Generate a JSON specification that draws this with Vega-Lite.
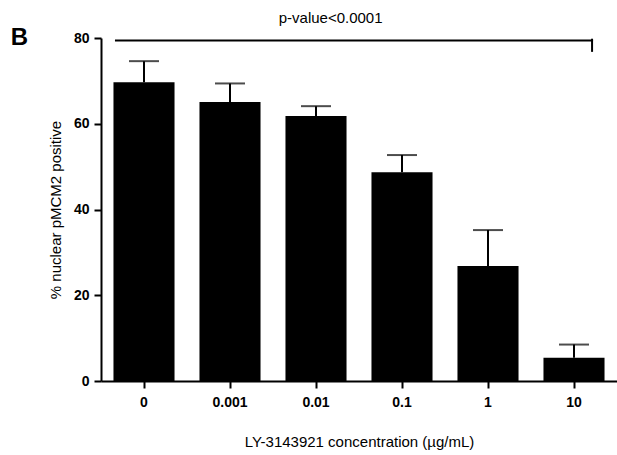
{
  "$schema": "https://vega.github.io/schema/vega-lite/v6.json",
  "autosize": "none",
  "padding": {"left": 101, "top": 38, "right": 0, "bottom": 74},
  "width": 516,
  "height": 343,
  "background": "white",
  "config": {
    "view": {"stroke": null},
    "axis": {"grid": false, "domainColor": "black", "domainWidth": 2, "tickColor": "black", "tickWidth": 2, "tickSize": 7, "labelFont": "Liberation Sans", "labelFontWeight": "bold", "labelFontSize": 14, "labelColor": "black", "titleFont": "Liberation Sans", "titleFontWeight": "normal", "titleFontSize": 15, "titleColor": "black"}
  },
  "datasets": {
    "bars": [
      {"conc": "0", "mean": 69.7, "upper": 74.6},
      {"conc": "0.001", "mean": 65.1, "upper": 69.4},
      {"conc": "0.01", "mean": 61.8, "upper": 64.1},
      {"conc": "0.1", "mean": 48.7, "upper": 52.7},
      {"conc": "1", "mean": 26.8, "upper": 35.2},
      {"conc": "10", "mean": 5.4, "upper": 8.5}
    ],
    "bracket": [
      {"x1": 0.174, "x2": 5.71, "y1": 79.4, "y2": 79.4},
      {"x1": 5.71, "x2": 5.71, "y1": 79.6, "y2": 77.0}
    ],
    "annot": [
      {"x": 2.67, "y": 84.7, "label": "p-value<0.0001"}
    ],
    "panel": [
      {"x": -0.95, "y": 80.0, "label": "B"}
    ]
  },
  "layer": [
    {
      "data": {"name": "bars"},
      "encoding": {
        "x": {"field": "conc", "type": "nominal", "sort": null,
              "scale": {"paddingInner": 0.29, "paddingOuter": 0.145},
              "axis": {"labelAngle": 0, "labelPadding": 7, "titlePadding": 25, "title": "LY-3143921 concentration (µg/mL)"}}
      },
      "layer": [
        {"mark": {"type": "bar", "color": "black"},
         "encoding": {"y": {"field": "mean", "type": "quantitative", "scale": {"domain": [0, 80], "nice": false},
                            "axis": {"values": [0, 20, 40, 60, 80], "labelPadding": 5, "titlePadding": 10, "title": "% nuclear pMCM2 positive"}}}},
        {"mark": {"type": "rule", "color": "black", "strokeWidth": 2},
         "encoding": {"y": {"field": "mean", "type": "quantitative"}, "y2": {"field": "upper"}}},
        {"mark": {"type": "tick", "color": "black", "size": 30, "thickness": 2},
         "encoding": {"y": {"field": "upper", "type": "quantitative"}}}
      ]
    },
    {
      "layer": [
        {"data": {"name": "bracket"},
         "mark": {"type": "rule", "color": "black", "strokeWidth": 2, "strokeCap": "square"},
         "encoding": {
           "x": {"field": "x1", "type": "quantitative", "scale": {"domain": [0, 6], "nice": false, "zero": false}, "axis": null},
           "x2": {"field": "x2"},
           "y": {"field": "y1", "type": "quantitative", "scale": {"domain": [0, 80], "nice": false}, "axis": null},
           "y2": {"field": "y2"}
         }},
        {"data": {"name": "annot"},
         "mark": {"type": "text", "font": "Liberation Sans", "fontSize": 15, "color": "black", "align": "center", "baseline": "middle"},
         "encoding": {
           "x": {"field": "x", "type": "quantitative", "axis": null},
           "y": {"field": "y", "type": "quantitative", "axis": null},
           "text": {"field": "label"}
         }},
        {"data": {"name": "panel"},
         "mark": {"type": "text", "font": "Liberation Sans", "fontSize": 24, "fontWeight": "bold", "color": "black", "align": "center", "baseline": "middle"},
         "encoding": {
           "x": {"field": "x", "type": "quantitative", "axis": null},
           "y": {"field": "y", "type": "quantitative", "axis": null},
           "text": {"field": "label"}
         }}
      ]
    }
  ],
  "resolve": {"scale": {"x": "independent"}, "axis": {"x": "independent", "y": "independent"}}
}
